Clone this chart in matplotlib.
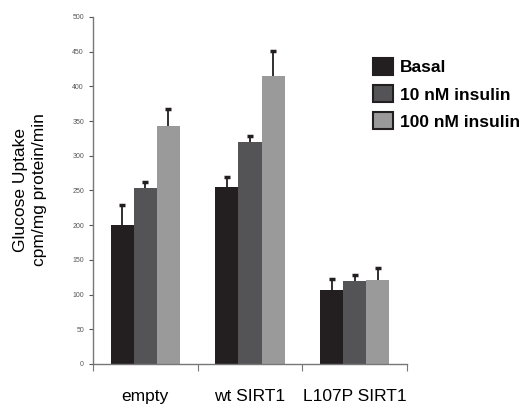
import numpy as np
import matplotlib
matplotlib.use('Agg')
import matplotlib.pyplot as plt

groups = ['empty', 'wt SIRT1', 'L107P SIRT1']
series = ['Basal', '10 nM insulin', '100 nM insulin']
basal = [201, 255, 107]
ins10 = [254, 320, 120]
ins100 = [343, 415, 121]
basal_err = [28, 15, 15]
ins10_err = [8, 8, 8]
ins100_err = [24, 36, 18]
colors = ['#231f20', '#545456', '#9a9a9a']

plt.rcParams['font.family'] = ['Liberation Sans', 'DejaVu Sans']

fig = plt.figure(figsize=(5.27, 4.09), dpi=100)
ax = fig.add_axes([93 / 527, 1 - 364 / 409, 314 / 527, 347 / 409])

x = np.arange(len(groups))
w = 0.22
values = [basal, ins10, ins100]
errs = [basal_err, ins10_err, ins100_err]
for i, (vals, err) in enumerate(zip(values, errs)):
    xs = x + (i - 1) * w
    vals = np.array(vals)
    tops = vals + np.array(err)
    ax.bar(xs, vals, w, color=colors[i], label=series[i], zorder=2)
    # upper error bar only, with a cap
    ax.vlines(xs, vals, tops, color='#231f20', linewidth=1.3, zorder=3)
    ax.plot(xs, tops, linestyle='none', marker='_', markersize=5,
            markeredgewidth=2.5, color='#231f20', zorder=3)

ax.set_xlim(-0.5, 2.5)
ax.set_ylim(0, 500)
ax.set_yticks(np.arange(0, 501, 50))
ax.tick_params(axis='y', labelsize=5, colors='#555555', length=3, width=0.8)
ax.set_xticks([-0.5, 0.5, 1.5, 2.5])
ax.set_xticklabels([])
ax.tick_params(axis='x', which='major', length=5, width=0.8, color='#777777')
ax.set_xticks(x, minor=True)
ax.set_xticklabels(groups, minor=True, fontsize=12.5)
ax.tick_params(axis='x', which='minor', length=0, pad=18)
for s in ['top', 'right']:
    ax.spines[s].set_visible(False)
for s in ['left', 'bottom']:
    ax.spines[s].set_color('#777777')
    ax.spines[s].set_linewidth(1)

fig.text(30 / 527, 1 - 190 / 409, 'Glucose Uptake\ncpm/mg protein/min', rotation=90,
         ha='center', va='center', fontsize=12.5, linespacing=1.35)

handles = [plt.Rectangle((0, 0), 1, 1, facecolor=c, edgecolor='#231f20', linewidth=1.5) for c in colors]
fig.legend(handles, series, loc='upper left', bbox_to_anchor=(373 / 527, 1 - 58 / 409),
           frameon=False, prop=dict(weight='bold', size=12.5),
           borderpad=0, borderaxespad=0,
           handlelength=1.15, handleheight=1.15, handletextpad=0.4, labelspacing=0.55)

fig.savefig('out.png', dpi=100)
